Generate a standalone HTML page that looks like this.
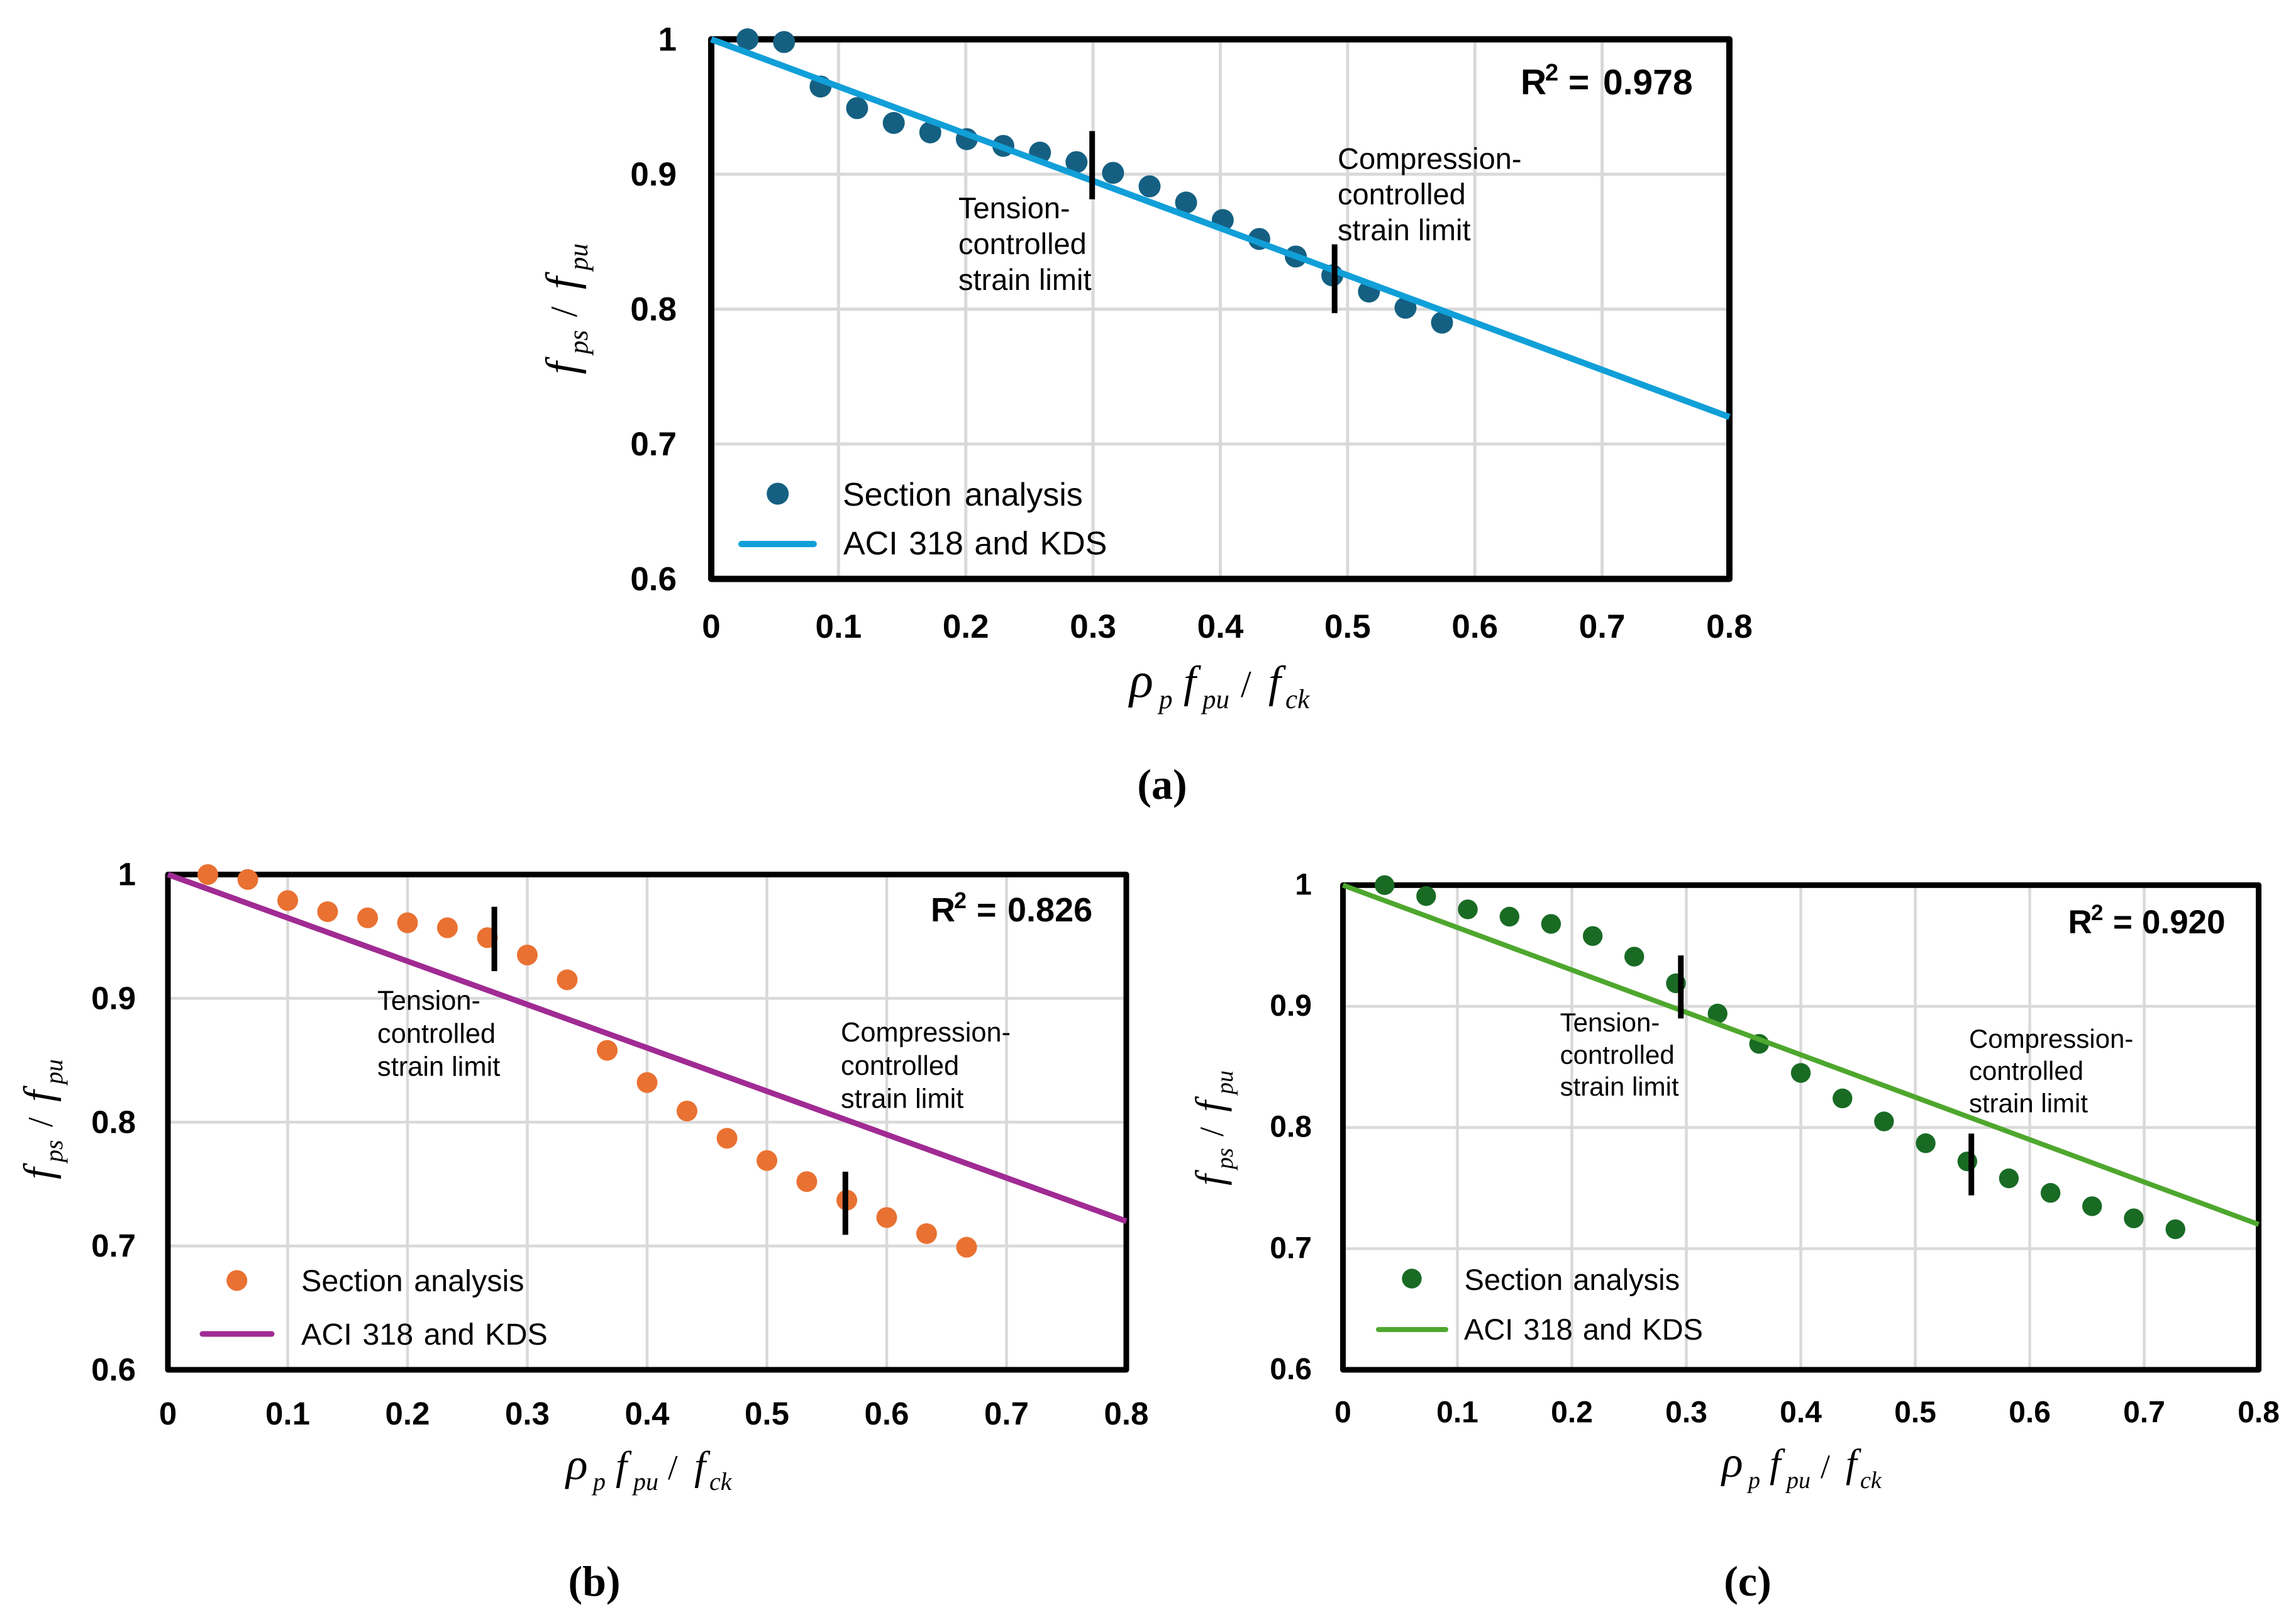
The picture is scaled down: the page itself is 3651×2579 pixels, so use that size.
<!DOCTYPE html>
<html lang="en">
<head>
<meta charset="utf-8">
<title>Stress ratio versus reinforcement index</title>
<style>
html,body{margin:0;padding:0;background:#fff}
svg{display:block}
.sans{font-family:"Liberation Sans",Arial,sans-serif}
.serif{font-family:"Liberation Serif","Times New Roman",serif}
.math{font-family:"Liberation Serif","Times New Roman",serif;font-style:italic;fill:#000}
.r2{font-family:"Liberation Sans",Arial,sans-serif;font-weight:700;fill:#000}
.note{font-family:"Liberation Sans",Arial,sans-serif;fill:#000}
.cap{font-family:"Liberation Serif","Times New Roman",serif;font-weight:700;fill:#000;text-anchor:middle}
</style>
</head>
<body>
<svg xmlns="http://www.w3.org/2000/svg" width="3651" height="2579" viewBox="0 0 3651 2579">
<rect width="3651" height="2579" fill="#fff"/>

<g id="panel-a"></g>
<g>
  <text class="r2" font-size="57"><tspan x="2418" y="150">R</tspan><tspan x="2457" y="128" font-size="38">2</tspan><tspan x="2494" y="150">=</tspan><tspan x="2549" y="150">0.978</tspan></text>
  <text class="note" font-size="47"><tspan x="1524" y="347">Tension-</tspan><tspan x="1524" y="404">controlled</tspan><tspan x="1524" y="461">strain limit</tspan></text>
  <text class="note" font-size="47"><tspan x="2127" y="268.6">Compression-</tspan><tspan x="2127" y="325">controlled</tspan><tspan x="2127" y="382">strain limit</tspan></text>
  <circle cx="1236.7" cy="785" r="17.5" fill="#156082"/>
  <line x1="1179" x2="1294" y1="865" y2="865" stroke="#119FD8" stroke-width="10" stroke-linecap="round"/>
  <text class="note" x="1340" y="804" font-size="52" word-spacing="6">Section analysis</text>
  <text class="note" x="1341" y="881.7" font-size="52" word-spacing="3">ACI 318 and KDS</text>
  <text class="math" font-size="71" transform="translate(917,600) rotate(-90)"><tspan x="5" y="0">f</tspan><tspan x="37" y="17" font-size="43">ps</tspan><tspan x="96" y="0" font-size="60" font-style="normal">/</tspan><tspan x="140" y="0">f</tspan><tspan x="170" y="17" font-size="43">pu</tspan></text>
  <text class="math" font-size="71"><tspan x="1796" y="1108" font-size="79">ρ</tspan><tspan x="1843" y="1126" font-size="43">p</tspan><tspan x="1882" y="1108">f</tspan><tspan x="1912" y="1126" font-size="43">pu</tspan><tspan x="1973" y="1108" font-size="60" font-style="normal">/</tspan><tspan x="2017" y="1108">f</tspan><tspan x="2044" y="1126" font-size="43">ck</tspan></text>
  <text class="cap" x="1848" y="1270" font-size="68">(a)</text>
</g>

<g id="panel-b"></g>
<g>
  <text class="r2" font-size="54"><tspan x="1480" y="1465">R</tspan><tspan x="1517" y="1444" font-size="36">2</tspan><tspan x="1553" y="1465">=</tspan><tspan x="1602" y="1465">0.826</tspan></text>
  <text class="note" font-size="43.4"><tspan x="600" y="1605.6">Tension-</tspan><tspan x="600" y="1658">controlled</tspan><tspan x="600" y="1710.5">strain limit</tspan></text>
  <text class="note" font-size="43.4"><tspan x="1337" y="1656">Compression-</tspan><tspan x="1337" y="1709">controlled</tspan><tspan x="1337" y="1761.7">strain limit</tspan></text>
  <circle cx="376.7" cy="2036" r="16.5" fill="#E97132"/>
  <line x1="322" x2="432" y1="2121" y2="2121" stroke="#A02B93" stroke-width="9" stroke-linecap="round"/>
  <text class="note" x="479" y="2053" font-size="48.5" word-spacing="4">Section analysis</text>
  <text class="note" x="479" y="2138" font-size="48.5" word-spacing="3">ACI 318 and KDS</text>
  <text class="math" font-size="66" transform="translate(83,1882) rotate(-90)"><tspan x="7" y="0">f</tspan><tspan x="34" y="16" font-size="40">ps</tspan><tspan x="90" y="0" font-size="56" font-style="normal">/</tspan><tspan x="130" y="0">f</tspan><tspan x="158" y="16" font-size="40">pu</tspan></text>
  <text class="math" font-size="65"><tspan x="900" y="2352" font-size="72">ρ</tspan><tspan x="943" y="2369" font-size="40">p</tspan><tspan x="979" y="2352">f</tspan><tspan x="1007" y="2369" font-size="40">pu</tspan><tspan x="1062" y="2352" font-size="56" font-style="normal">/</tspan><tspan x="1104" y="2352">f</tspan><tspan x="1128" y="2369" font-size="40">ck</tspan></text>
  <text class="cap" x="945" y="2537" font-size="68">(b)</text>
</g>

<g id="panel-c"></g>
<g>
  <text class="r2" font-size="53"><tspan x="3288.5" y="1484">R</tspan><tspan x="3325" y="1463" font-size="35">2</tspan><tspan x="3360" y="1484">=</tspan><tspan x="3406" y="1484">0.920</tspan></text>
  <text class="note" font-size="42"><tspan x="2480.6" y="1640">Tension-</tspan><tspan x="2480.6" y="1691.4">controlled</tspan><tspan x="2480.6" y="1742">strain limit</tspan></text>
  <text class="note" font-size="42"><tspan x="3131" y="1666">Compression-</tspan><tspan x="3131" y="1717">controlled</tspan><tspan x="3131" y="1768.6">strain limit</tspan></text>
  <circle cx="2245" cy="2033" r="15.7" fill="#196B24"/>
  <line x1="2192" x2="2299" y1="2114" y2="2114" stroke="#4EA72E" stroke-width="8" stroke-linecap="round"/>
  <text class="note" x="2328.5" y="2051" font-size="47" word-spacing="3">Section analysis</text>
  <text class="note" x="2328" y="2130" font-size="47" word-spacing="3">ACI 318 and KDS</text>
  <text class="math" font-size="64" transform="translate(1945,1892) rotate(-90)"><tspan x="7" y="0">f</tspan><tspan x="33" y="15" font-size="38">ps</tspan><tspan x="85" y="0" font-size="54" font-style="normal">/</tspan><tspan x="124" y="0">f</tspan><tspan x="152" y="15" font-size="38">pu</tspan></text>
  <text class="math" font-size="63"><tspan x="2738" y="2348" font-size="70">ρ</tspan><tspan x="2780" y="2366" font-size="38">p</tspan><tspan x="2814" y="2348">f</tspan><tspan x="2841" y="2366" font-size="38">pu</tspan><tspan x="2895" y="2350" font-size="54" font-style="normal">/</tspan><tspan x="2935" y="2348">f</tspan><tspan x="2958" y="2366" font-size="38">ck</tspan></text>
  <text class="cap" x="2779" y="2537" font-size="68">(c)</text>
</g>

<script>
const xTicks = [0, 0.1, 0.2, 0.3, 0.4, 0.5, 0.6, 0.7, 0.8];
const xTickLabels = ['0', '0.1', '0.2', '0.3', '0.4', '0.5', '0.6', '0.7', '0.8'];
const yTicks = [0.6, 0.7, 0.8, 0.9, 1];
const yTickLabels = ['0.6', '0.7', '0.8', '0.9', '1'];

const codeLineX = [0, 0.8];
const codeLineY = [1, 0.72];

const sectionAX = [0.0285, 0.0572, 0.0859, 0.1146, 0.1434, 0.1721, 0.2008, 0.2295, 0.2583, 0.287, 0.3157, 0.3444, 0.3731, 0.4019, 0.4306, 0.4593, 0.488, 0.5168, 0.5455, 0.5742];
const sectionAY = [1, 0.998, 0.965, 0.949, 0.938, 0.931, 0.926, 0.921, 0.916, 0.909, 0.901, 0.891, 0.879, 0.866, 0.852, 0.839, 0.825, 0.813, 0.801, 0.79];
const limitAX = [0.2993, 0.4898];
const limitATop = [0.932, 0.848];
const limitABottom = [0.8814, 0.797];

const sectionBX = [0.0333, 0.0667, 0.1, 0.1333, 0.1667, 0.2, 0.2333, 0.2667, 0.3, 0.3333, 0.3667, 0.4, 0.4333, 0.4667, 0.5, 0.5333, 0.5667, 0.6, 0.6333, 0.6667];
const sectionBY = [1, 0.996, 0.979, 0.97, 0.965, 0.961, 0.957, 0.949, 0.935, 0.915, 0.858, 0.832, 0.809, 0.787, 0.769, 0.752, 0.737, 0.723, 0.71, 0.699];
const limitBX = [0.2725, 0.5655];
const limitBTop = [0.974, 0.76];
const limitBBottom = [0.922, 0.709];

const sectionCX = [0.0364, 0.0727, 0.1091, 0.1455, 0.1818, 0.2182, 0.2545, 0.2909, 0.3273, 0.3636, 0.4, 0.4364, 0.4727, 0.5091, 0.5455, 0.5818, 0.6182, 0.6545, 0.6909, 0.7273];
const sectionCY = [1, 0.991, 0.98, 0.974, 0.968, 0.958, 0.941, 0.919, 0.894, 0.869, 0.845, 0.824, 0.805, 0.787, 0.772, 0.758, 0.746, 0.735, 0.725, 0.716];
const limitCX = [0.2952, 0.549];
const limitCTop = [0.942, 0.795];
const limitCBottom = [0.89, 0.744];

const NS = 'http://www.w3.org/2000/svg';

function node(parent, tag, attrs) {
  const el = document.createElementNS(NS, tag);
  for (const k in attrs) el.setAttribute(k, attrs[k]);
  parent.appendChild(el);
  return el;
}

function drawPanel(id, tag, box, style, xs, ys, limX, limTop, limBottom) {
  const root = document.getElementById(id);
  const sx = v => box.left + (v - 0) / 0.8 * (box.right - box.left);
  const sy = v => box.bottom - (v - 0.6) / 0.4 * (box.bottom - box.top);

  xTicks.forEach((t, i) => {
    if (i > 0 && i < xTicks.length - 1) {
      const g = node(root, 'line', {x1: sx(t), x2: sx(t), y1: box.top, y2: box.bottom, stroke: '#D9D9D9', 'stroke-width': style.grid});
      
      
    }
    const lab = node(root, 'text', {x: sx(t), y: style.xLabelY, 'text-anchor': 'middle', 'font-size': style.tickSize, 'font-weight': 700, 'font-family': '"Liberation Sans", Arial, sans-serif'});
    lab.textContent = xTickLabels[i];
    
    
  });

  yTicks.forEach((t, i) => {
    if (i > 0 && i < yTicks.length - 1) {
      const g = node(root, 'line', {x1: box.left, x2: box.right, y1: sy(t), y2: sy(t), stroke: '#D9D9D9', 'stroke-width': style.grid});
      
      
    }
    const lab = node(root, 'text', {x: style.yLabelX, y: sy(t) + style.yLabelDy, 'text-anchor': 'end', 'font-size': style.tickSize, 'font-weight': 700, 'font-family': '"Liberation Sans", Arial, sans-serif'});
    lab.textContent = yTickLabels[i];
    
    
  });

  const frame = node(root, 'rect', {x: box.left, y: box.top, width: box.right - box.left, height: box.bottom - box.top, fill: 'none', stroke: '#000', 'stroke-width': style.frame, 'stroke-linejoin': 'round'});
  
  

  xs.forEach((v, i) => {
    const dot = node(root, 'circle', {cx: sx(v), cy: sy(ys[i]), r: style.dot, fill: style.dotColor});
    
    
  });

  const fit = node(root, 'line', {x1: sx(codeLineX[0]), y1: sy(codeLineY[0]), x2: sx(codeLineX[1]), y2: sy(codeLineY[1]), stroke: style.lineColor, 'stroke-width': style.line});
  
  

  limX.forEach((v, i) => {
    const m = node(root, 'line', {x1: sx(v), x2: sx(v), y1: sy(limTop[i]), y2: sy(limBottom[i]), stroke: '#000', 'stroke-width': 9});
    
    
  });
}

drawPanel('panel-a', 'a', {left: 1131, right: 2750, top: 62.5, bottom: 920.5},
  {grid: 5, frame: 10, dot: 17.5, line: 10, dotColor: '#156082', lineColor: '#119FD8', tickSize: 53, xLabelY: 1014, yLabelX: 1076, yLabelDy: 18},
  sectionAX, sectionAY, limitAX, limitATop, limitABottom);

drawPanel('panel-b', 'b', {left: 267, right: 1791, top: 1390.5, bottom: 2178},
  {grid: 4.5, frame: 9, dot: 16.5, line: 9, dotColor: '#E97132', lineColor: '#A02B93', tickSize: 51, xLabelY: 2265, yLabelX: 216, yLabelDy: 17},
  sectionBX, sectionBY, limitBX, limitBTop, limitBBottom);

drawPanel('panel-c', 'c', {left: 2135.5, right: 3591.6, top: 1407.4, bottom: 2178},
  {grid: 4.5, frame: 9, dot: 15.7, line: 8, dotColor: '#196B24', lineColor: '#4EA72E', tickSize: 48, xLabelY: 2261.5, yLabelX: 2086, yLabelDy: 15},
  sectionCX, sectionCY, limitCX, limitCTop, limitCBottom);
</script>
</svg>
</body>
</html>
